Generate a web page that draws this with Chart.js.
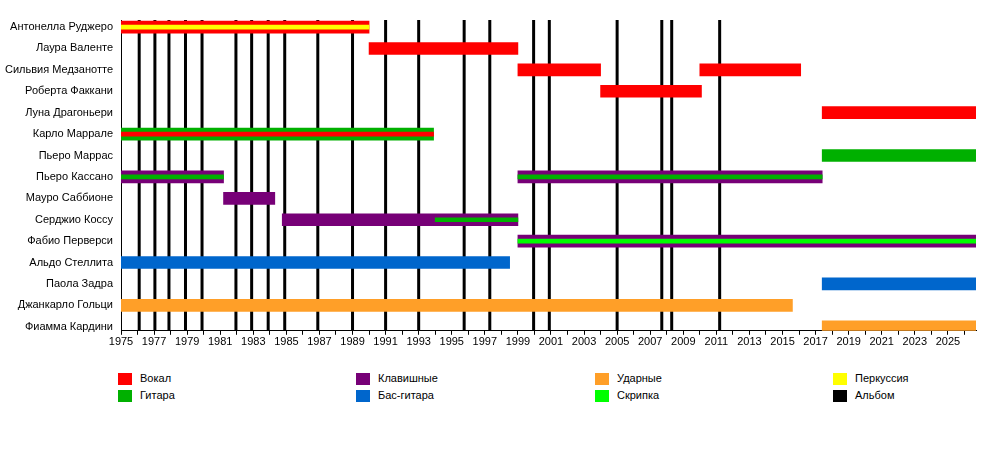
<!DOCTYPE html>
<html><head><meta charset="utf-8">
<script src="https://cdn.jsdelivr.net/npm/chart.js@4"></script>
<style>
body{margin:0;background:#fff;font-family:"Liberation Sans",Arial,sans-serif;}
#wrap{position:absolute;left:0;top:0;width:1000px;height:350px;}
.lg{position:absolute;font-size:11px;color:#000;}
.lg span{position:absolute;left:0;top:0;width:14px;height:12px;}
.lg b{position:absolute;left:22px;top:-1px;font-weight:normal;white-space:nowrap;}
</style></head><body>
<div id="wrap"><canvas id="c"></canvas></div>
<div id="legend"></div>
<script>
const members = ["Антонелла Руджеро","Лаура Валенте","Сильвия Медзанотте","Роберта Факкани","Луна Драгоньери","Карло Маррале","Пьеро Маррас","Пьеро Кассано","Мауро Саббионе","Серджио Коссу","Фабио Перверси","Альдо Стеллита","Паола Задра","Джанкарло Гольци","Фиамма Кардини"];
const END = 2026.7;
// [row, start, end]
const vocals = [[0,1975,1990],[1,1990,1999],[2,1999,2004],[2,2010,2016.1],[3,2004,2010.1],[4,2017.4,END]];
const guitar = [[5,1975,1993.9],[6,2017.4,END]];
const keyboards = [[7,1975,1981.2],[7,1999,2017.4],[8,1981.2,1984.3],[9,1984.75,1999],[10,1999,END]];
const bass = [[11,1975,1998.5],[12,2017.4,END]];
const drums = [[13,1975,2015.6],[14,2017.4,END]];
const percStripe = [[0,1975,1990]];
const vocalStripe = [[5,1975,1993.9]];
const guitarStripe = [[7,1975,1981.2],[7,1999,2017.4],[9,1994,1999]];
const violinStripe = [[10,1999,END]];
const albums = [1976.1,1977.05,1977.9,1978.9,1979.9,1981.95,1982.9,1983.9,1984.9,1986.9,1989.0,1991.0,1993.0,1995.75,1997.3,1999.95,2000.9,2005.0,2007.7,2008.3,2011.2];
const legendItems = [["Вокал","#ff0000"],["Гитара","#00b000"],["Клавишные","#770077"],["Бас-гитара","#0066cc"],["Ударные","#ff9f28"],["Скрипка","#00ff00"],["Перкуссия","#ffff00"],["Альбом","#000000"]];

const toData = a => a.map(r => ({x:[r[1],r[2]], y:r[0]}));
const ds = (arr,color,th,ord) => ({data:toData(arr),backgroundColor:color,borderWidth:0,barThickness:th,grouped:false,borderSkipped:false,order:ord});

const albumPlugin = {id:'albums',beforeDatasetsDraw(chart){
  const {ctx,chartArea:a,scales:{x}} = chart;
  ctx.save();ctx.strokeStyle='#000';ctx.lineWidth=3;
  albums.forEach(v=>{const px=x.getPixelForValue(v);ctx.beginPath();ctx.moveTo(px,a.top);ctx.lineTo(px,a.bottom);ctx.stroke();});
  ctx.restore();}};

Chart.defaults.font.family='"Liberation Sans", Arial, sans-serif';
Chart.defaults.font.size=11;
Chart.defaults.color='#000';
new Chart(document.getElementById('c'),{
  type:'bar',
  data:{datasets:[
    ds(vocals,'#ff0000',12,1),ds(guitar,'#00b000',12,1),ds(keyboards,'#770077',12,1),ds(bass,'#0066cc',12,1),ds(drums,'#ff9f28',12,1),
    ds(percStripe,'#ffff00',4,0),ds(vocalStripe,'#ff0000',4,0),ds(guitarStripe,'#00b000',4,0),ds(violinStripe,'#00ff00',4,0)
  ]},
  options:{
    indexAxis:'y',responsive:true,maintainAspectRatio:false,animation:false,
    layout:{padding:{top:20,right:24,left:0,bottom:0}},
    plugins:{legend:{display:false},tooltip:{enabled:false}},
    scales:{
      x:{type:'linear',min:1975,max:END,
        border:{display:true,color:'#000',width:1},
        grid:{drawOnChartArea:false,drawTicks:true,tickLength:4,color:'#000'},
        ticks:{stepSize:1,includeBounds:false,autoSkip:false,maxRotation:0,padding:1,
          callback:v=>((v-1975)%2===0?String(v):'')}},
      y:{type:'linear',reverse:true,offset:false,min:-0.33,max:14.19,afterFit(s){s.width=121;},
        border:{display:true,color:'#000',width:1},
        grid:{drawOnChartArea:false,drawTicks:false,offset:false},
        ticks:{stepSize:1,includeBounds:false,autoSkip:false,padding:8,
          callback:v=>members[v]||''}}
    }
  },
  plugins:[albumPlugin]
});
const lg=document.getElementById('legend');
const cols=[118,356,595,833];
legendItems.forEach((it,i)=>{
  const d=document.createElement('div');d.className='lg';
  d.style.left=cols[Math.floor(i/2)]+'px';d.style.top=(373+(i%2)*17)+'px';
  d.innerHTML='<span style="background:'+it[1]+'"></span><b>'+it[0]+'</b>';
  lg.appendChild(d);
});
</script></body></html>
